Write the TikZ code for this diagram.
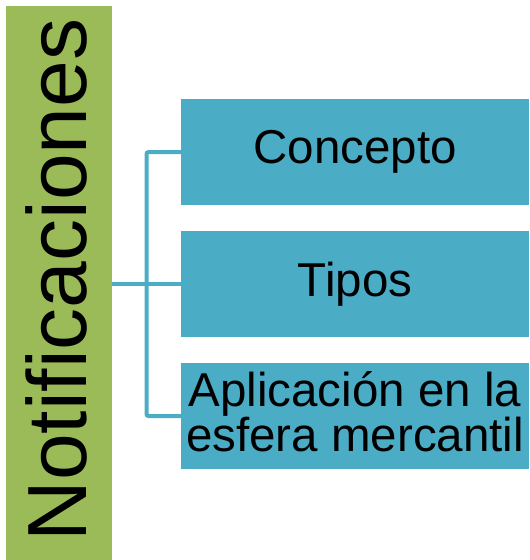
\documentclass[tikz,border=0pt]{standalone}
\usepackage{fontspec}
\setmainfont{Liberation Sans}
\definecolor{barGreen}{HTML}{9BBB59}
\definecolor{boxBlue}{HTML}{4BACC6}
\begin{document}
\begin{tikzpicture}[x=1pt,y=-1pt,
  itembox/.style={fill=boxBlue,draw=none,minimum width=348pt,minimum height=106pt,inner sep=0pt,
    font=\fontsize{47.5}{42}\selectfont,align=center,text=black},
  itemtext/.style={inner sep=0pt,font=\fontsize{47.5}{42}\selectfont,align=center,text=black},
  link/.style={draw=boxBlue,line width=4pt,rounded corners=2pt}]
\useasboundingbox (0,0) rectangle (530,560);
\node[fill=barGreen,minimum width=106pt,minimum height=554pt,inner sep=0pt] (bar) at (59,283) {};
\node[rotate=90,inner sep=0pt,font=\fontsize{84}{84}\selectfont] (title) at (56,280) {Notificaciones};
\node[itembox] (b1) at (355,152) {Concepto};
\node[itembox] (b2) at (355,284) {Tipos};
\node[itembox] (b3) at (355,416) {};
\node[itemtext] (t3) at (355,412) {Aplicación en la\\esfera mercantil};
\coordinate (hub) at (146.5,284);
\draw[link] (bar.east |- hub) -- (b2.west);
\draw[link] (b1.west) -| (hub) |- (b3.west);
\end{tikzpicture}
\end{document}
